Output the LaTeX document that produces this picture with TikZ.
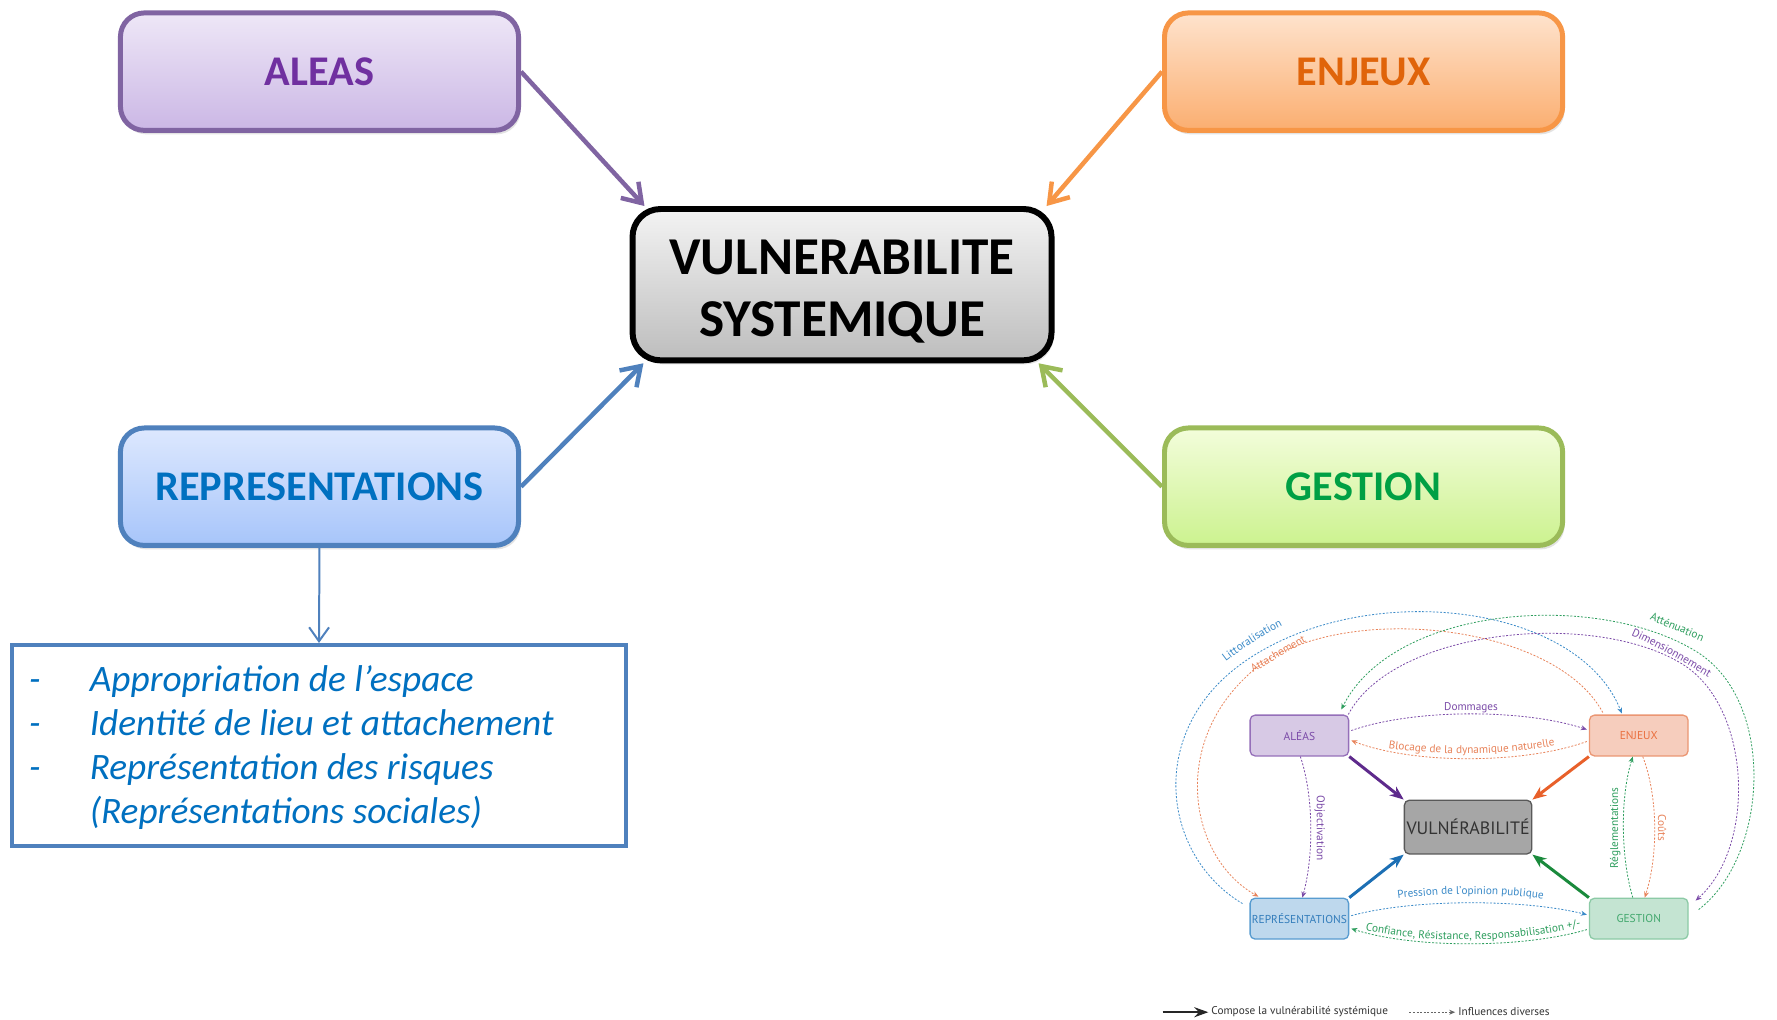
\documentclass[tikz,border=0pt]{standalone}
\usepackage{fontspec}
\setmainfont{Carlito}
\newfontfamily\sdfont{PT Sans}
\usetikzlibrary{arrows.meta,shadows,decorations.text}
\definecolor{alB}{HTML}{8064A2}\definecolor{alT}{HTML}{7030A0}
\definecolor{alFa}{HTML}{EEE7F7}\definecolor{alFb}{HTML}{CBB7E5}
\definecolor{enB}{HTML}{F79646}\definecolor{enT}{HTML}{E0640A}
\definecolor{enFa}{HTML}{FEE3CD}\definecolor{enFb}{HTML}{FBAE70}
\definecolor{reB}{HTML}{4F81BD}\definecolor{reT}{HTML}{0070C0}
\definecolor{reFa}{HTML}{DDE8FE}\definecolor{reFb}{HTML}{A7C5FA}
\definecolor{geB}{HTML}{9BBB59}\definecolor{geT}{HTML}{00A044}
\definecolor{geFa}{HTML}{F3FDDB}\definecolor{geFb}{HTML}{CCF28F}
\definecolor{vuFa}{HTML}{F3F3F3}\definecolor{vuFb}{HTML}{BDBDBD}
\definecolor{sPu}{HTML}{7B4BA8}\definecolor{sOr}{HTML}{E8835A}
\definecolor{sBl}{HTML}{3A8AC8}\definecolor{sGr}{HTML}{2E9E5E}
\definecolor{aPu}{HTML}{5E2A8C}\definecolor{aOr}{HTML}{E8602A}
\definecolor{aBl}{HTML}{1C6FB4}\definecolor{aGr}{HTML}{1A8A3C}
\newcommand{\sdsize}{\sdfont\fontsize{11.3}{13}\selectfont}
\begin{document}
\begin{tikzpicture}[x=1pt,y=-1pt,
  mainbox/.style={rounded corners=24pt, line width=5pt, minimum width=400pt,
    minimum height=118pt, inner sep=0pt, font=\fontsize{42.5}{50}\selectfont\bfseries,
    drop shadow={opacity=0.22,shadow xshift=2pt,shadow yshift=-4pt}},
  mainarrow/.style={line width=4.5pt, -{Straight Barb[length=18pt,width=24pt]}},
  sbox/.style={rounded corners=5pt, line width=1.3pt, minimum width=99pt,
    minimum height=41pt, inner sep=1pt, font=\sdfont\fontsize{11.5}{13}\selectfont},
  infl/.style={line width=0.8pt, dash pattern=on 2pt off 1.6pt, -{Stealth[length=6pt,width=5pt]}},
  sarrow/.style={line width=3pt, -{Stealth[length=14pt,width=11pt]}},
  slab/.style={font=\sdsize, inner sep=0pt},
  lst/.style={font=\fontsize{37.5}{44}\selectfont\itshape, text=reT, inner sep=0pt, anchor=base west},
  curvlab/.style={decorate, decoration={text along path, text align=center, text color=#1}}
]
\path[fill=white] (0,0) rectangle (1777,1024);

% ---------- main diagram ----------
\node[mainbox, draw=alB, top color=alFa, bottom color=alFb, text=alT] (alea) at (321,72) {ALEAS};
\node[mainbox, draw=enB, top color=enFa, bottom color=enFb, text=enT] (enj) at (1370,72) {ENJEUX};
\node[mainbox, draw=reB, top color=reFa, bottom color=reFb, text=reT] (rep) at (321,489) {REPRESENTATIONS};
\node[mainbox, draw=geB, top color=geFa, bottom color=geFb, text=geT] (ges) at (1370,489) {GESTION};
\node[mainbox, rounded corners=28pt, line width=6pt, draw=black, top color=vuFa, bottom color=vuFb,
  minimum width=421pt, minimum height=152pt] (vul) at (846,286) {};
\node[align=center, inner sep=0pt, font=\fontsize{53.5}{63}\selectfont\bfseries] (vult) at (846,293) {VULNERABILITE\\SYSTEMIQUE};

\draw[mainarrow, alB] (alea.east) -- ([xshift=15pt]vul.north west);
\draw[mainarrow, enB] (enj.west) -- ([xshift=-8pt]vul.north east);
\draw[mainarrow, reB] (rep.east) -- ([xshift=14pt]vul.south west);
\draw[mainarrow, geB] (ges.west) -- ([xshift=-16pt]vul.south east);

% list box
\node[draw=reB, line width=4pt, minimum width=617pt, minimum height=202pt, inner sep=0pt] (lbox) at (320.5,749) {};
\draw[reB, line width=2pt, -{Straight Barb[length=14pt,width=20pt]}] (rep.south) -- (lbox.north);
\node[lst] (d1) at (29,695) {-};
\node[lst] (d2) at (29,739) {-};
\node[lst] (d3) at (29,783) {-};
\node[lst] (l1) at (90,695) {Appropriation de l’espace};
\node[lst] (l2) at (90,739) {Identité de lieu et attachement};
\node[lst] (l3) at (90,783) {Représentation des risques};
\node[lst] (l4) at (90,827) {(Représentations sociales)};

% ---------- small diagram ----------
\node[sbox, draw=sPu!80, fill=sPu!30, text=sPu] (sal) at (1305.5,739) {ALÉAS};
\node[sbox, draw=sOr!85, fill=sOr!40, text=aOr!90] (sen) at (1646.5,739) {ENJEUX};
\node[sbox, draw=sBl!85, fill=sBl!33, text=aBl!90] (sre) at (1305.5,923) {REPRÉSENTATIONS};
\node[sbox, draw=sGr!55, fill=sGr!28, text=sGr!90] (sge) at (1646.5,923) {GESTION};
\node[sbox, draw=black!65, fill=black!35, text=black!80, minimum width=128pt, minimum height=54pt,
  font=\sdfont\fontsize{18}{20}\selectfont] (svu) at (1475,831) {VULNÉRABILITÉ};

\draw[sarrow, aPu] (sal.south east) -- (svu.north west);
\draw[sarrow, aOr] (sen.south west) -- (svu.north east);
\draw[sarrow, aBl] (sre.north east) -- (svu.south west);
\draw[sarrow, aGr] (sge.north west) -- (svu.south east);

% influences
\draw[infl, sBl] ([shift={(-7,6)}]sre.north west) .. controls (1168,860) and (1150,735) .. (1250,665)
   .. controls (1370,581) and (1585,605) .. ([shift={(-17,-1)}]sen.north);
\draw[infl, sOr] ([shift={(14,-2)}]sen.north west) .. controls (1560,622) and (1330,602) .. (1252,680)
   .. controls (1176,752) and (1196,862) .. ([shift={(9,-1)}]sre.north west);
\draw[infl, sGr] ([shift={(10,12)}]sge.north east) .. controls (1777,860) and (1785,705) .. (1705,655)
   .. controls (1605,593) and (1400,608) .. ([shift={(-8,-5)}]sal.north east);
\draw[infl, sPu] ([shift={(-1,0)}]sal.north east) .. controls (1400,632) and (1600,612) .. (1690,667)
   .. controls (1760,710) and (1765,850) .. ([shift={(7,3)}]sge.north east);
\draw[infl, sPu] ([shift={(2,-5)}]sal.east) .. controls (1420,712) and (1530,712) .. ([shift={(-2,-6)}]sen.west);
\draw[infl, sOr] ([shift={(-2,6)}]sen.west) .. controls (1530,768) and (1420,768) .. ([shift={(2,5)}]sal.east);
\draw[infl, sPu] ([shift={(1,0)}]sal.south) .. controls (1320,800) and (1320,860) .. ([shift={(3,0)}]sre.north);
\draw[infl, sGr] ([shift={(-6,0)}]sge.north) .. controls (1628,860) and (1628,800) .. ([shift={(-6,0)}]sen.south);
\draw[infl, sOr] ([shift={(4,0)}]sen.south) .. controls (1666,800) and (1666,860) .. ([shift={(6,0)}]sge.north);
\draw[infl, sBl] ([shift={(2,-3)}]sre.east) .. controls (1420,903) and (1530,903) .. ([shift={(-2,-4)}]sge.west);
\draw[infl, sGr] ([shift={(-2,11)}]sge.west) .. controls (1530,953) and (1420,953) .. ([shift={(2,10)}]sre.east);

% curved labels
\path[curvlab=sBl, decoration={text={|\sdsize|Littoralisation}}]
  (1219,675) .. controls (1244,654) and (1273,635) .. (1303,621);
\path[curvlab=sOr, decoration={text={|\sdsize|Attachement}}]
  (1243,685) .. controls (1268,671) and (1301,651) .. (1329,635);
\path[curvlab=sGr, decoration={text={|\sdsize|Atténuation}}]
  (1637,615) .. controls (1667,626) and (1699,640) .. (1730,653);
\path[curvlab=sPu, decoration={text={|\sdsize|Dimensionnement}}]
  (1624,632) .. controls (1659,645) and (1701,671) .. (1730,689);
\path[curvlab=sOr, decoration={text={|\sdsize|Blocage de la dynamique naturelle}}]
  (1385,750) .. controls (1440,760) and (1515,760) .. (1572,747);
\path[curvlab=sBl, decoration={text={|\sdsize|Pression de l’opinion publique}}]
  (1390,905) .. controls (1450,896) and (1505,896) .. (1565,905);
\path[curvlab=sGr, decoration={text={|\sdsize|Confiance, Résistance, Responsabilisation +/-}}]
  (1360,932) .. controls (1430,950) and (1530,948) .. (1600,928);

\node[slab, text=sPu] (tdom) at (1478,711) {Dommages};
\node[slab, text=sPu, rotate=-90] (tobj) at (1326,832) {Objectivation};
\node[slab, text=sGr, rotate=90] (treg) at (1623,832) {Réglementations};
\node[slab, text=sOr, rotate=-90] (tcou) at (1670,832) {Coûts};

% legend
\coordinate (lga) at (1168,1017);
\coordinate (lgb) at (1214,1017);
\coordinate (lgc) at (1416,1017);
\coordinate (lgd) at (1462,1017);
\draw[line width=2.4pt, black!85, -{Stealth[length=14pt,width=10pt]}] (lga) -- (lgb);
\draw[infl, black!60] (lgc) -- (lgd);
\node[slab, anchor=west, text=black!80] (lgt1) at (1217,1016) {Compose la vulnérabilité systémique};
\node[slab, anchor=west, text=black!80] (lgt2) at (1465,1016) {Influences diverses};
\end{tikzpicture}
\end{document}
